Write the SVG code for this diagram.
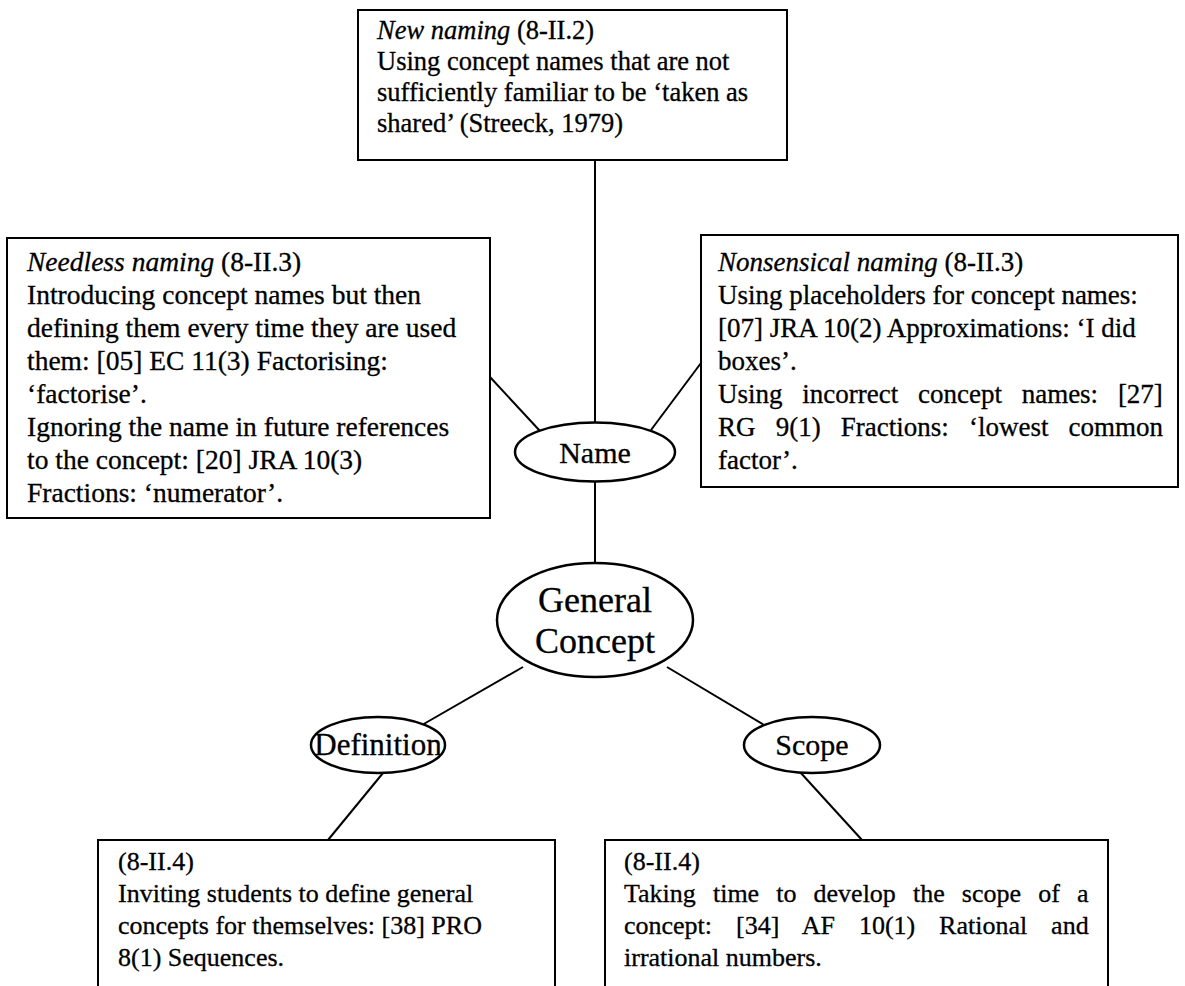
<svg xmlns="http://www.w3.org/2000/svg" width="1185" height="986" viewBox="0 0 1185 986">
<style>
.box{fill:#fff;stroke:#000;stroke-width:2}
.ell{fill:#fff;stroke:#000;stroke-width:2.5}
text{font-family:"Liberation Serif","Times New Roman",serif;fill:#000;stroke:#000;stroke-width:0.3}
.t1{font-size:26.5px}
.t2{font-size:27.5px}
.t3{font-size:27px}
.t4{font-size:26px}
.i{font-style:italic}
.n{font-size:30px;text-anchor:middle}
.g{font-size:36px;text-anchor:middle}
#connectors line{stroke:#000;stroke-width:2}
</style>
<rect width="1185" height="986" fill="#fff"/>
<g id="connectors">
<line x1="595" y1="160" x2="595" y2="423"/>
<line x1="490" y1="377" x2="540" y2="431"/>
<line x1="701" y1="363" x2="651" y2="430"/>
<line x1="595" y1="482" x2="595" y2="563"/>
<line x1="523" y1="667" x2="422" y2="725"/>
<line x1="667" y1="667" x2="764" y2="725"/>
<line x1="383" y1="773" x2="328" y2="840"/>
<line x1="800" y1="772" x2="862" y2="840"/>
</g>
<g id="new-naming">
<rect class="box" x="358" y="10" width="429" height="150"/>
<text class="t1" x="377" y="39"><tspan class="i">New naming</tspan> (8-II.2)</text>
<text class="t1" x="377" y="70">Using concept names that are not</text>
<text class="t1" x="377" y="101">sufficiently familiar to be ‘taken as</text>
<text class="t1" x="377" y="132">shared’ (Streeck, 1979)</text>
</g>
<g id="needless-naming">
<rect class="box" x="7" y="238" width="483" height="280"/>
<text class="t2" x="27" y="271"><tspan class="i">Needless naming</tspan> (8-II.3)</text>
<text class="t2" x="27" y="304">Introducing concept names but then</text>
<text class="t2" x="27" y="337">defining them every time they are used</text>
<text class="t2" x="27" y="370">them: [05] EC 11(3) Factorising:</text>
<text class="t2" x="27" y="403">‘factorise’.</text>
<text class="t2" x="27" y="436">Ignoring the name in future references</text>
<text class="t2" x="27" y="469">to the concept: [20] JRA 10(3)</text>
<text class="t2" x="27" y="502">Fractions: ‘numerator’.</text>
</g>
<g id="nonsensical-naming">
<rect class="box" x="701" y="235" width="477" height="252"/>
<text class="t3" x="718" y="271"><tspan class="i">Nonsensical naming</tspan> (8-II.3)</text>
<text class="t3" x="718" y="304">Using placeholders for concept names:</text>
<text class="t3" x="718" y="337">[07] JRA 10(2) Approximations: ‘I did</text>
<text class="t3" x="718" y="370">boxes’.</text>
<text class="t3" x="718" y="403" style="word-spacing:13px">Using incorrect concept names: [27]</text>
<text class="t3" x="718" y="436" style="word-spacing:13.4px">RG 9(1) Fractions: ‘lowest common</text>
<text class="t3" x="718" y="469">factor’.</text>
</g>
<g id="name">
<ellipse class="ell" cx="595" cy="452" rx="80" ry="29.5"/>
<text class="n" x="595" y="463">Name</text>
</g>
<g id="general-concept">
<ellipse class="ell" cx="595" cy="620" rx="98" ry="57"/>
<text class="g" x="595" y="612">General</text>
<text class="g" x="595" y="653">Concept</text>
</g>
<g id="definition">
<ellipse class="ell" cx="378" cy="745" rx="67" ry="28"/>
<text class="n" x="378" y="755" style="font-size:31px">Definition</text>
</g>
<g id="scope">
<ellipse class="ell" cx="812" cy="745" rx="68" ry="28"/>
<text class="n" x="812" y="755">Scope</text>
</g>
<g id="definition-box">
<rect class="box" x="98" y="840" width="457" height="200"/>
<text class="t4" x="118" y="870">(8-II.4)</text>
<text class="t4" x="118" y="902">Inviting students to define general</text>
<text class="t4" x="118" y="934">concepts for themselves: [38] PRO</text>
<text class="t4" x="118" y="966">8(1) Sequences.</text>
</g>
<g id="scope-box">
<rect class="box" x="605" y="840" width="503" height="200"/>
<text class="t4" x="624" y="870">(8-II.4)</text>
<text class="t4" x="624" y="902" style="word-spacing:10.6px">Taking time to develop the scope of a</text>
<text class="t4" x="624" y="934" style="word-spacing:17.4px">concept: [34] AF 10(1) Rational and</text>
<text class="t4" x="624" y="966">irrational numbers.</text>
</g>
</svg>
